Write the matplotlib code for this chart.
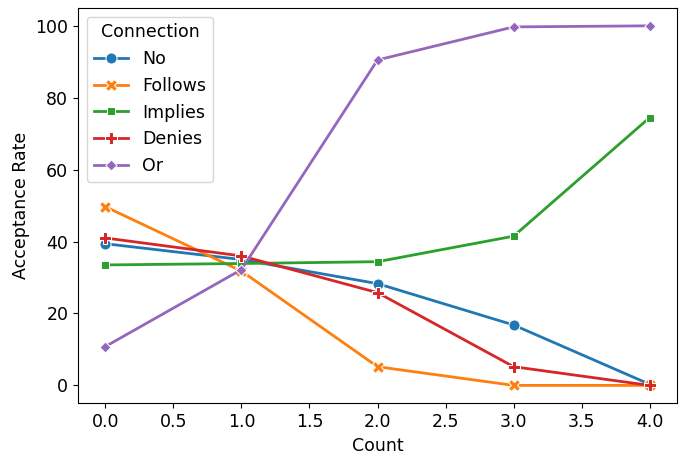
import pandas as pd
import seaborn as sns
import matplotlib.pyplot as plt

counts = [0, 1, 2, 3, 4]
connections = ['No', 'Follows', 'Implies', 'Denies', 'Or']
no_rate = [39.4, 35.0, 28.3, 16.8, 0.3]
follows_rate = [49.7, 31.8, 5.2, 0.0, 0.0]
implies_rate = [33.5, 33.9, 34.4, 41.5, 74.5]
denies_rate = [41.0, 36.0, 25.8, 5.2, 0.0]
or_rate = [10.8, 32.2, 90.5, 99.7, 100.0]

rows = []
for name, vals in zip(connections, [no_rate, follows_rate, implies_rate, denies_rate, or_rate]):
    for c, v in zip(counts, vals):
        rows.append({'Count': c, 'Acceptance Rate': v, 'Connection': name})
df = pd.DataFrame(rows)

plt.rcParams['font.size'] = 12.5
fig, ax = plt.subplots(figsize=(6.79, 4.61), dpi=100)
sns.lineplot(data=df, x='Count', y='Acceptance Rate', hue='Connection', style='Connection',
             markers=True, dashes=False, linewidth=2, markersize=8, ax=ax)
ax.legend(title='Connection', loc='upper left')
fig.subplots_adjust(left=0.115, right=0.997, top=0.983, bottom=0.125)
fig.savefig('out.png')
